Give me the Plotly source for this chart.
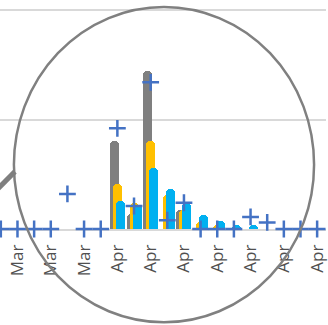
import plotly.graph_objects as go

# Category labels (one per slot, every second one shown on the axis)
months = ["Mar"] * 7 + ["Apr"] * 13
slots = list(range(len(months)))

# Series values
gray_vals = [0, 0, 0, 0, 0, 0, 0, 0.80, 0.14, 1.44, 0, 0.17, 0, 0, 0, 0, 0, 0, 0, 0]
gold_vals = [0, 0, 0, 0, 0, 0, 0, 0.41, 0.24, 0.80, 0.31, 0.17, 0.06, 0.04, 0, 0, 0, 0, 0, 0]
blue_vals = [0, 0, 0, 0, 0, 0, 0, 0.26, 0.22, 0.56, 0.37, 0.24, 0.13, 0.07, 0.04, 0.04, 0, 0, 0, 0]
cross_vals = [0, 0, 0, 0, 0.32, 0, 0, 0.92, 0.21, 1.34, 0.08, 0.24, 0, 0, 0, 0.11, 0.06, 0, 0, 0]

W, H = 328, 325
plot_bottom = 229.5  # pixel row of the baseline
bar_w = 0.54

fig = go.Figure()
for vals, color, off in [(gray_vals, "#7F7F7F", -0.45),
                         (gold_vals, "#FFC000", -0.27),
                         (blue_vals, "#00B0F0", -0.09)]:
    fig.add_trace(go.Bar(x=slots, y=vals, width=bar_w, offset=off,
                         marker=dict(color=color, cornerradius=4, line=dict(width=0)),
                         showlegend=False))

fig.add_trace(go.Scatter(x=slots, y=cross_vals, mode="markers", cliponaxis=False,
                         marker=dict(symbol="cross-thin", size=12, color="#4472C4",
                                     line=dict(color="#4472C4", width=2.5)),
                         showlegend=False))

tick_idx = slots[1::2]
fig.update_xaxes(range=[-0.05, -0.05 + W / 16.75], tickmode="array", tickvals=tick_idx,
                 ticktext=[months[i] for i in tick_idx], tickangle=-90,
                 tickfont=dict(family="Open Sans", size=17, color="#505050"),
                 ticklabeloverflow="allow",
                 showgrid=False, showline=True, linecolor="#D9D9D9", linewidth=1.5,
                 layer="below traces",
                 ticks="outside", ticklen=7, tickcolor="rgba(0,0,0,0)", zeroline=False)
fig.update_yaxes(range=[0, plot_bottom / 109.7], dtick=1, showticklabels=False,
                 showgrid=True, gridcolor="#D9D9D9", gridwidth=1.5, zeroline=False)


def px_x(p):
    return p / W


def px_y(p):
    return (plot_bottom - p) / plot_bottom


# Magnifier lens and handle
fig.add_shape(type="circle", xref="paper", yref="paper",
              x0=px_x(14), x1=px_x(316), y0=px_y(323), y1=px_y(7),
              line=dict(color="#808080", width=2.5))
fig.add_shape(type="line", xref="paper", yref="paper",
              x0=px_x(15), y0=px_y(172), x1=px_x(-12), y1=px_y(199),
              line=dict(color="#7F7F7F", width=5))

fig.update_layout(width=W, height=H, margin=dict(l=0, r=0, t=0, b=H - plot_bottom),
                  barmode="overlay", bargap=0, plot_bgcolor="white", paper_bgcolor="white")

fig.write_html("out.html")
